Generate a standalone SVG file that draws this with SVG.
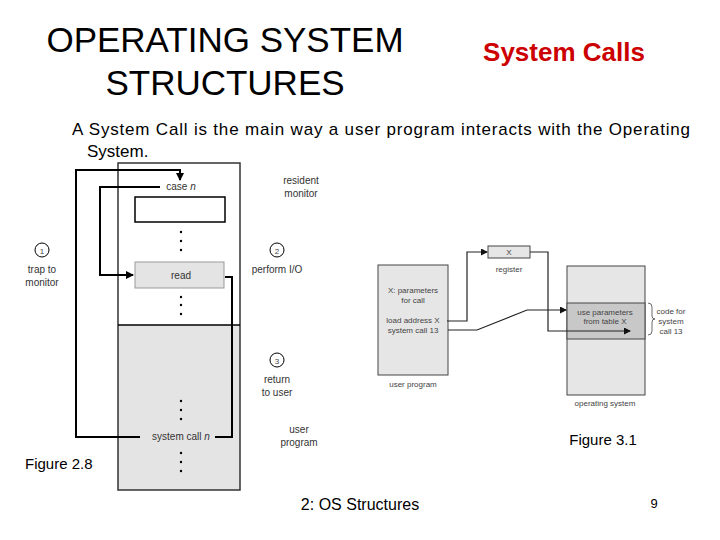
<svg xmlns="http://www.w3.org/2000/svg" width="720" height="540" viewBox="0 0 720 540">
<style>
text{font-family:"Liberation Sans",Arial,sans-serif;fill:#000}
.s{font-size:10px;fill:#333}
.t{font-size:8px;fill:#444}
.c{text-anchor:middle}
.ln{fill:none;stroke:#000;stroke-width:2}
.ln2{fill:none;stroke:#222;stroke-width:1.2}
</style>
<defs>
<marker id="a" markerWidth="8" markerHeight="8" refX="7" refY="4" orient="auto" markerUnits="userSpaceOnUse"><path d="M0,0L8,4L0,8z" fill="#000"/></marker>
<marker id="b" markerWidth="7" markerHeight="7" refX="6" refY="3.5" orient="auto" markerUnits="userSpaceOnUse"><path d="M0,0L7,3.5L0,7z" fill="#111"/></marker>
</defs>
<rect width="720" height="540" fill="#fff"/>
<text x="225" y="52" class="c" font-size="35">OPERATING SYSTEM</text>
<text x="225" y="95" class="c" font-size="35">STRUCTURES</text>
<text x="564" y="61" class="c" font-size="26" font-weight="bold" style="fill:#cc0000">System Calls</text>
<text x="72" y="135" font-size="17" textLength="618" lengthAdjust="spacing">A System Call is the main way a user program interacts with the Operating</text>
<text x="87" y="157" font-size="17">System.</text>
<g id="fig28">
<rect x="118" y="325" width="122" height="165" fill="#e4e4e4"/>
<rect x="118" y="163" width="122" height="327" fill="none" stroke="#333" stroke-width="1.5"/>
<line x1="118" y1="325" x2="240" y2="325" stroke="#000" stroke-width="1.5"/>
<rect x="135" y="197" width="90" height="25" fill="#fff" stroke="#000" stroke-width="1.5"/>
<rect x="135" y="262" width="89" height="26" fill="#e4e4e4" stroke="#999"/>
<text x="181" y="190" class="s c">case <tspan font-style="italic">n</tspan></text>
<text x="181" y="279" class="s c">read</text>
<text x="181" y="440" class="s c">system call <tspan font-style="italic">n</tspan></text>
<g fill="#000"><circle cx="181" cy="232" r="1.2"/><circle cx="181" cy="241" r="1.2"/><circle cx="181" cy="250" r="1.2"/><circle cx="181" cy="297" r="1.2"/><circle cx="181" cy="305" r="1.2"/><circle cx="181" cy="314" r="1.2"/><circle cx="181" cy="401" r="1.2"/><circle cx="181" cy="410" r="1.2"/><circle cx="181" cy="419" r="1.2"/><circle cx="181" cy="453" r="1.2"/><circle cx="181" cy="462" r="1.2"/><circle cx="181" cy="471" r="1.2"/></g>
<g fill="none" stroke="#000"><circle cx="42" cy="250" r="7"/><circle cx="277" cy="250" r="7"/><circle cx="277" cy="360" r="7"/></g>
<text x="42" y="254" class="t c">1</text><text x="277" y="254" class="t c">2</text><text x="277" y="364" class="t c">3</text>
<text x="42" y="273" class="s c">trap to</text><text x="42" y="286" class="s c">monitor</text>
<text x="277" y="273" class="s c">perform I/O</text>
<text x="277" y="383" class="s c">return</text><text x="277" y="396" class="s c">to user</text>
<text x="301" y="184" class="s c">resident</text><text x="301" y="197" class="s c">monitor</text>
<text x="299" y="433" class="s c">user</text><text x="299" y="446" class="s c">program</text>
<text x="25" y="469" font-size="15">Figure 2.8</text>
</g>
<g id="fig31">
<rect x="378" y="265" width="70" height="110" fill="#e6e6e6" stroke="#444"/>
<text x="413" y="293" class="t c">X: parameters</text><text x="413" y="303" class="t c">for call</text>
<text x="413" y="323" class="t c">load address X</text><text x="413" y="333" class="t c">system call 13</text>
<text x="413" y="387" class="t c">user program</text>
<rect x="488" y="246" width="42" height="12" fill="#e6e6e6" stroke="#444"/>
<text x="509" y="255" class="t c">X</text><text x="509" y="272" class="t c">register</text>
<rect x="567" y="266" width="78" height="129" fill="#e6e6e6" stroke="#444"/>
<rect x="567" y="303" width="78" height="36" fill="#c8c8c8" stroke="#444"/>
<text x="605" y="315" class="t c">use parameters</text><text x="605" y="324" class="t c">from table X</text>
<text x="605" y="406" class="t c">operating system</text>
<path d="M648,303q4,0 4,4v9q0,3 3,3q-3,0 -3,3v9q0,4 -4,4" fill="none" stroke="#444" stroke-width="0.8"/>
<text x="671" y="314" class="t c">code for</text><text x="671" y="324" class="t c">system</text><text x="671" y="334" class="t c">call 13</text>
<text x="603" y="445" font-size="15" class="c">Figure 3.1</text>
</g>
<g id="connectors">
<path class="ln" d="M140,437H76V170H180V180" marker-end="url(#a)"/>
<path class="ln" d="M160,187H100V275H133" marker-end="url(#a)"/>
<path class="ln" d="M225,277H232V437H215"/>
<path class="ln2" d="M447,321H467V252H487" marker-end="url(#b)"/>
<path class="ln2" d="M530,252H548V331H630" marker-end="url(#b)"/>
<path class="ln2" d="M448,330H477L527,310H566" marker-end="url(#b)"/>
</g>
<text x="360" y="510" font-size="16" class="c">2: OS Structures</text>
<text x="654" y="508" font-size="13" class="c">9</text>
</svg>
